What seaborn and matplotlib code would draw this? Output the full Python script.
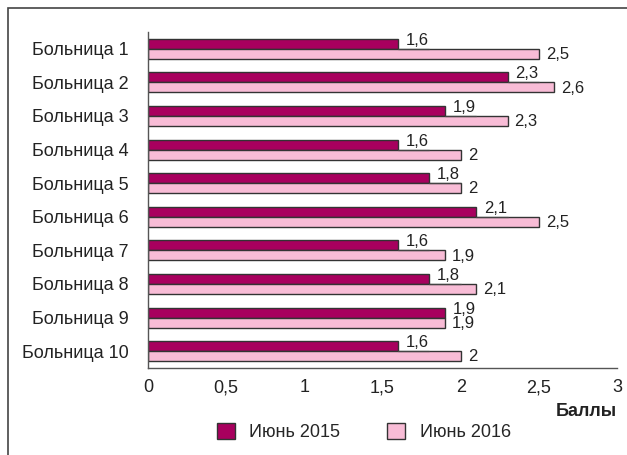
import matplotlib
matplotlib.use("Agg")
import matplotlib.pyplot as plt
import seaborn as sns
import pandas as pd
import numpy as np
from matplotlib.patches import Patch, Rectangle

hospitals = [f"Больница {i}" for i in range(1, 11)]
series = ["Июнь 2015", "Июнь 2016"]
vals_2015 = [1.6, 2.3, 1.9, 1.6, 1.8, 2.1, 1.6, 1.8, 1.9, 1.6]
vals_2016 = [2.5, 2.6, 2.3, 2.0, 2.0, 2.5, 1.9, 2.1, 1.9, 2.0]
xticks = [0, 0.5, 1, 1.5, 2, 2.5, 3]
xtick_labels = ["0", "0,5", "1", "1,5", "2", "2,5", "3"]
colors = ["#A8005E", "#F8BCD6"]

df = pd.DataFrame({
    "Больница": hospitals * 2,
    "Период": [series[0]] * 10 + [series[1]] * 10,
    "Баллы": vals_2015 + vals_2016,
})

sns.set_style("white")
plt.rcParams["font.family"] = ["Liberation Sans", "DejaVu Sans"]

fig = plt.figure(figsize=(6.27, 4.55), dpi=100)
ax = fig.add_axes([148/627, 1-368/455, (617-148)/627, (368-32)/455])

sns.barplot(data=df, y="Больница", x="Баллы", hue="Период", orient="h",
            palette=colors, saturation=1, width=0.6, edgecolor="#333333", linewidth=1.0,
            ax=ax, legend=False)

ax.set_xlim(0, 3)
ax.set_ylim(9.5, -0.5)
ax.set_xticks(xticks)
ax.set_xticklabels(xtick_labels, fontsize=13, color="#222222")
ax.set_yticks(range(10))
ax.set_yticklabels(hospitals, fontsize=13, color="#222222")
ax.tick_params(axis="y", length=0, pad=14)
ax.set_yticks(np.arange(-0.5, 10, 1), minor=True)
ax.tick_params(axis="y", which="minor", length=5, color="#555555", width=1, direction="out")
ax.tick_params(axis="x", length=5, color="#555555", width=1, direction="out", pad=3)
ax.set_xlabel("")
ax.set_ylabel("")
for s in ["top", "right"]:
    ax.spines[s].set_visible(False)
for s in ["left", "bottom"]:
    ax.spines[s].set_color("#555555")
    ax.spines[s].set_linewidth(1)

bh = 0.6 / 2
for i, (a, b) in enumerate(zip(vals_2015, vals_2016)):
    la = f"{a:g}".replace(".", ",")
    lb = f"{b:g}".replace(".", ",")
    yb = i + bh / 2
    if b - a > 0.05:
        ax.plot([a, a + 0.2], [i, i], color="#444444", lw=0.9, clip_on=False)
    ax.text(a + 0.05, i - 0.03, la, ha="left", va="bottom", fontsize=12, color="#222222")
    ax.text(b + 0.045, yb + 0.02, lb, ha="left", va="center", fontsize=12, color="#222222")

fig.text(617/627, 1-411/455, "Баллы", ha="right", va="center", fontsize=13,
         fontweight="bold", color="#222222")

handles = [Patch(facecolor=c, edgecolor="#333333", linewidth=1, label=s) for c, s in zip(colors, series)]
fig.legend(handles=handles, loc="center", bbox_to_anchor=(364/627, 1-432/455), ncol=2,
           frameon=False, fontsize=13, handlelength=1.0, handleheight=1.0,
           columnspacing=2.6, handletextpad=0.8)

fig.patches.append(Rectangle((8/627, -0.1), 1.2, 1 - 8/455 + 0.1, transform=fig.transFigure,
                             fill=False, edgecolor="#444444", linewidth=1.2))

fig.savefig("out.png", dpi=100)
